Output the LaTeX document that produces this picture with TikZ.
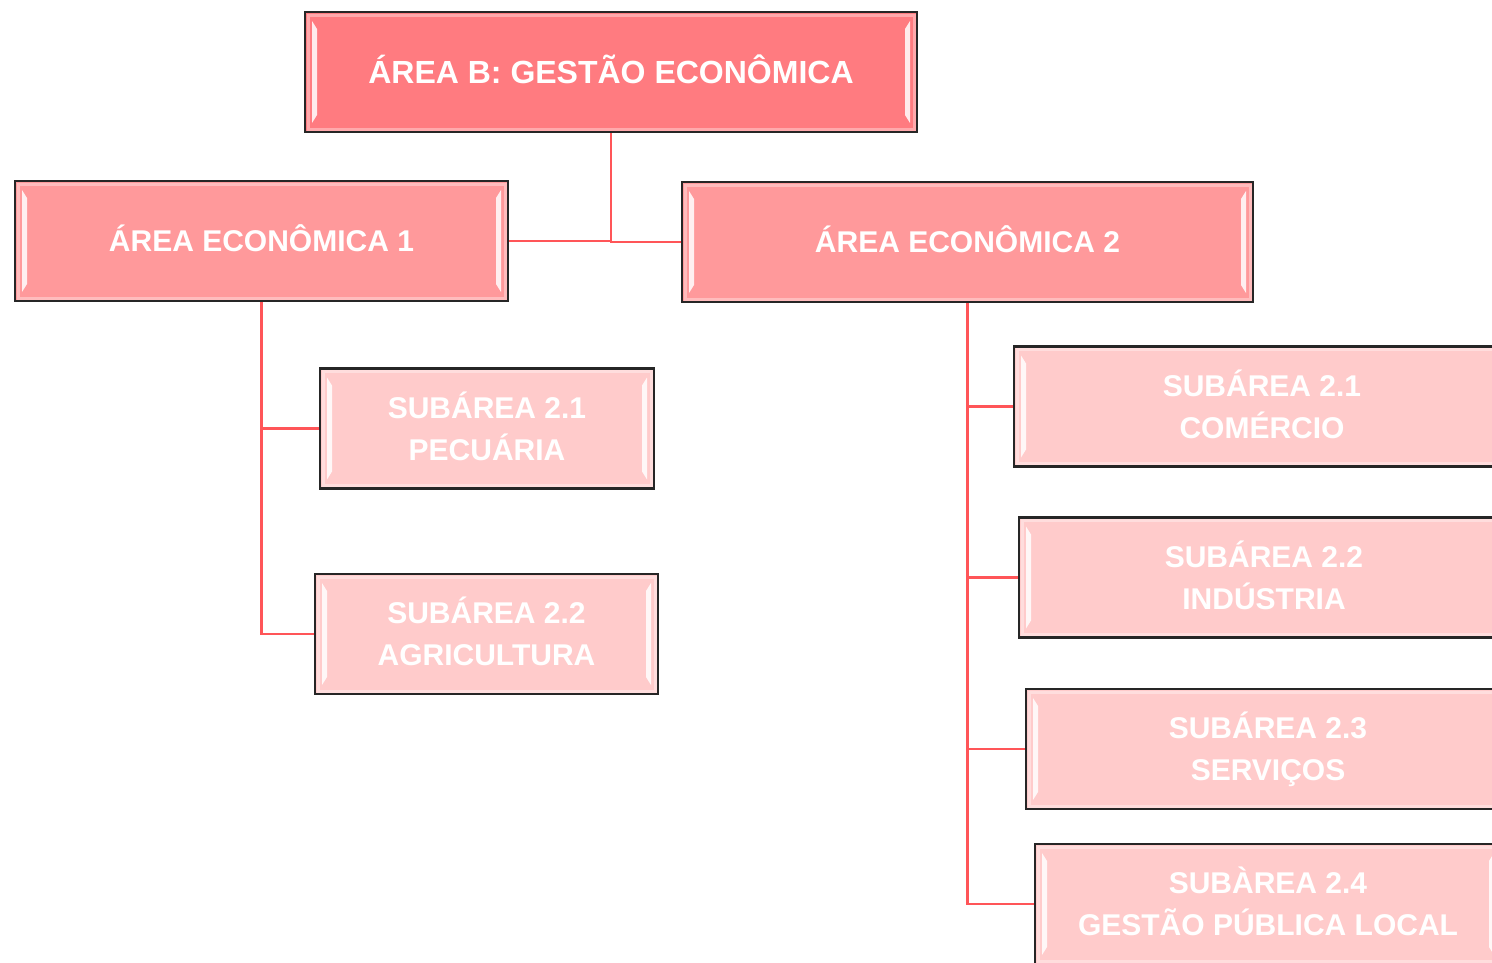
\documentclass[tikz,border=0pt]{standalone}
\usepackage{fontspec}
\setmainfont{Liberation Sans}
\usetikzlibrary{positioning}
\definecolor{topred}{HTML}{FF7B80}
\definecolor{midred}{HTML}{FF999B}
\definecolor{lowred}{HTML}{FFCBCB}
\definecolor{linered}{HTML}{FF5558}
\tikzstyle{bevel} = [path picture={
    \fill[white,opacity=.85] ([shift={(7pt,-9pt)}]path picture bounding box.north west)
        -- ++(5pt,-8pt) -- ([shift={(12pt,17pt)}]path picture bounding box.south west)
        -- ([shift={(7pt,9pt)}]path picture bounding box.south west) -- cycle;
    \fill[white,opacity=.85] ([shift={(-7pt,-9pt)}]path picture bounding box.north east)
        -- ++(-5pt,-8pt) -- ([shift={(-12pt,17pt)}]path picture bounding box.south east)
        -- ([shift={(-7pt,9pt)}]path picture bounding box.south east) -- cycle;
    \draw[white,opacity=.35,line width=3pt] ([shift={(3pt,-3pt)}]path picture bounding box.north west)
        rectangle ([shift={(-3pt,3pt)}]path picture bounding box.south east);
}]
\tikzstyle{orgbox} = [draw=black!85, line width=2.2pt, rectangle, text=white,
    font=\fontsize{30}{42}\selectfont\bfseries, align=center, minimum height=120pt,
    text height=21.5pt, text depth=0pt, bevel]
\tikzstyle{twolines} = [text height=63.5pt]
\tikzstyle{topbox} = [orgbox, fill=topred, minimum width=612pt,
    font=\fontsize{32}{42}\selectfont\bfseries, text height=23pt]
\tikzstyle{areabox} = [orgbox, fill=midred]
\tikzstyle{subbox} = [orgbox, fill=lowred, twolines]
\tikzstyle{conn} = [draw=linered, line width=2.5pt]

\begin{document}
\begin{tikzpicture}[x=1pt,y=-1pt]
\useasboundingbox (0,0) rectangle (1492,962);
\clip (0,0) rectangle (1492,962);
\node[topbox] (areab) at (611,72) {ÁREA B: GESTÃO ECONÔMICA};
\node[areabox, minimum width=493pt] (area1) at (261.5,241) {ÁREA ECONÔMICA 1};
\node[areabox, minimum width=571pt] (area2) at (967.5,242) {ÁREA ECONÔMICA 2};
% subareas of area 1
\node[subbox, minimum width=334pt] (pecuaria) at (487,428.5) {SUBÁREA 2.1\\PECUÁRIA};
\node[subbox, minimum width=343pt] (agricultura) at (486.5,634) {SUBÁREA 2.2\\AGRICULTURA};
% subareas of area 2
\node[subbox, minimum width=496pt] (comercio) at (1262,406.5) {SUBÁREA 2.1\\COMÉRCIO};
\node[subbox, minimum width=490pt] (industria) at (1264,577.5) {SUBÁREA 2.2\\INDÚSTRIA};
\node[subbox, minimum width=484pt] (servicos) at (1268,749) {SUBÁREA 2.3\\SERVIÇOS};
\node[subbox, minimum width=466pt] (gestao) at (1268,904) {SUBÀREA 2.4\\GESTÃO PÚBLICA LOCAL};
% connectors
\draw[conn] (areab.south) |- (area1.east);
\draw[conn] (areab.south) |- (area2.west);
\draw[conn] (area1.south) |- (pecuaria.west);
\draw[conn] (area1.south) |- (agricultura.west);
\draw[conn] (area2.south) |- (comercio.west);
\draw[conn] (area2.south) |- (industria.west);
\draw[conn] (area2.south) |- (servicos.west);
\draw[conn] (area2.south) |- (gestao.west);
\end{tikzpicture}
\end{document}
